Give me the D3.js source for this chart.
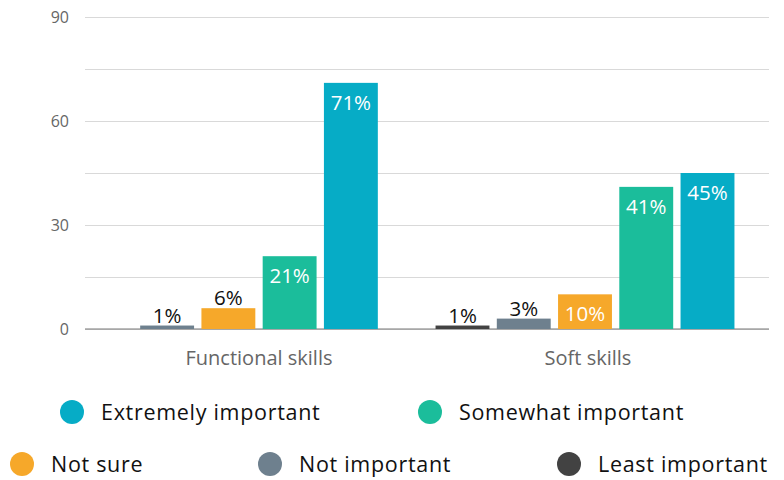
<!DOCTYPE html>
<html>
<head>
<meta charset="utf-8">
<script src="https://cdn.jsdelivr.net/npm/d3@7"></script>
<style>
  html, body { margin: 0; padding: 0; background: #fff; }
  svg { display: block; font-family: "Open Sans", Lato, sans-serif; }
  .ytick { font-size: 16px; fill: #666; }
</style>
</head>
<body>
<svg id="chart" width="784" height="480"></svg>
<script>
// Survey: importance of skill types
const groups = ["Functional skills", "Soft skills"];
const seriesNames = ["Least important", "Not important", "Not sure", "Somewhat important", "Extremely important"];
const seriesColors = ["#424242", "#6e808e", "#f6a82a", "#1bbd9b", "#06acc6"];
// null = no response in that category
const functionalValues = [null, 1, 6, 21, 71];
const softValues = [1, 3, 10, 41, 45];
const yTicks = [0, 15, 30, 45, 60, 75, 90];
const yTickLabels = ["0", "", "30", "", "60", "", "90"];

const valuesByGroup = [functionalValues, softValues];

const svg = d3.select("#chart");
const FONT = "'Open Sans', Lato, sans-serif";
const plot = { left: 85, right: 769, top: 17, bottom: 329 };

const y = d3.scaleLinear().domain([0, 90]).range([plot.bottom, plot.top]);
const x0 = d3.scaleBand().domain(groups).range([96, 748]).padding(0);

// gridlines + y labels
const yAxis = d3.axisLeft(y).tickValues(yTicks)
  .tickSize(-(plot.right - plot.left))
  .tickFormat((d, i) => yTickLabels[i]);
const gy = svg.append("g").attr("transform", `translate(${plot.left},0)`).call(yAxis);
gy.select(".domain").remove();
gy.attr("font-family", FONT).attr("font-size", null);
gy.selectAll(".tick line").attr("stroke", "#d9d9d9").attr("stroke-width", 1);
gy.selectAll(".tick text").attr("class", "ytick").attr("x", -16).attr("fill", null)
  .style("font-size", "16px").style("fill", "#666");

// baseline
svg.append("line")
  .attr("x1", plot.left).attr("x2", plot.right)
  .attr("y1", y(0)).attr("y2", y(0))
  .attr("stroke", "#777").attr("stroke-width", 1);

const step = 61.25;
groups.forEach((g, gi) => {
  const vals = valuesByGroup[gi];
  const present = seriesNames.filter((s, si) => vals[si] != null);
  const cx = x0(g) + x0.bandwidth() / 2;
  const n = present.length;
  const x1 = d3.scaleBand().domain(present)
    .range([cx - n * step / 2, cx + n * step / 2])
    .paddingInner(0.12).paddingOuter(0.06);

  const rows = present.map(s => {
    const si = seriesNames.indexOf(s);
    return { s, v: vals[si], c: seriesColors[si] };
  });

  const gg = svg.append("g");
  gg.selectAll("rect").data(rows).join("rect")
    .attr("x", d => x1(d.s))
    .attr("width", x1.bandwidth())
    .attr("y", d => y(d.v))
    .attr("height", d => y(0) - y(d.v))
    .attr("fill", d => d.c);

  gg.selectAll("text.val").data(rows).join("text")
    .attr("class", "val")
    .attr("x", d => x1(d.s) + x1.bandwidth() / 2)
    .attr("y", d => d.v >= 10 ? y(d.v) + 27 : y(d.v) - 3)
    .attr("text-anchor", "middle")
    .attr("font-size", 20.5)
    .attr("fill", d => d.v >= 10 ? "#fff" : "#111")
    .text(d => d.v + "%");

  svg.append("text")
    .attr("x", cx + (gi === 1 ? 3 : 0))
    .attr("y", 365)
    .attr("text-anchor", "middle")
    .attr("font-size", 20)
    .attr("fill", "#666")
    .text(g);
});

// legend
const legendRows = [
  { y: 412, items: [["Extremely important", 72], ["Somewhat important", 430]] },
  { y: 464, items: [["Not sure", 22], ["Not important", 270], ["Least important", 569]] }
];
legendRows.forEach(row => {
  row.items.forEach(([name, cx]) => {
    const si = seriesNames.indexOf(name);
    const lg = svg.append("g");
    lg.append("circle").attr("cx", cx).attr("cy", row.y).attr("r", 12)
      .attr("fill", seriesColors[si]);
    lg.append("text").attr("x", cx + 29).attr("y", row.y + 7.5)
      .attr("font-size", 21.5).attr("letter-spacing", 0.7)
      .attr("fill", "#111").text(name);
  });
});
</script>
</body>
</html>
